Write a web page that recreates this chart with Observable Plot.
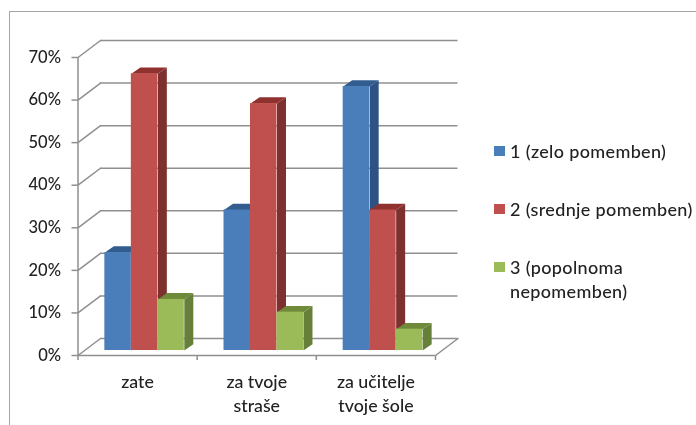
<!DOCTYPE html>
<html>
<head>
<meta charset="utf-8">
<script src="https://cdn.jsdelivr.net/npm/d3@7"></script>
<script src="https://cdn.jsdelivr.net/npm/@observablehq/plot@0.6"></script>
<style>
  html, body { margin: 0; padding: 0; background: #fff; }
  #frame { position: relative; width: 696px; height: 425px; overflow: hidden; font-family: Lato, sans-serif; color: #222; filter: blur(0.35px); }
  #frame::before { content: ""; position: absolute; left: 9px; top: 11px; right: -4px; bottom: -4px;
    border: 1.5px solid #a6a6a6; }
  #chart { position: absolute; left: 0; top: 0; }
  #chart svg { display: block; background: transparent; overflow: visible; }
  .legend-row { position: absolute; left: 494px; display: flex; align-items: flex-start; font-size: 18px; letter-spacing: 0.35px; line-height: 24px; font-weight: 500; }
  .legend-row i { display: block; width: 11px; height: 10px; margin: 7px 5px 0 0; flex: none; }
</style>
</head>
<body>
<div id="frame"><div id="chart"></div></div>
<script>
const categories = ["zate", "za tvoje\nstraše", "za učitelje\ntvoje šole"];
const seriesNames = ["1 (zelo pomemben)", "2 (srednje pomemben)", "3 (popolnoma\nnepomemben)"];
const series1 = [23, 33, 62];
const series2 = [65, 58, 33];
const series3 = [12, 9, 5];
const frontColors = ["#4a7ebb", "#c0504d", "#9bbb59"];
const topColors = ["#335c8f", "#8f312e", "#6f8a3a"];
const sideColors = ["#2f5285", "#7d302d", "#66803a"];
const percentTicks = [0, 10, 20, 30, 40, 50, 60, 70];
const legendTops = [139, 197, 255];

const values = [series1, series2, series3];

// Oblique projection constants, in data units (x: categories, y: percent)
const wallDX = 22.5 / 119.2, wallDY = 17 / 4.26;
const baseDX = 7 / 119.2, baseDY = 5 / 4.26;
const barDX = 9 / 119.2, barDY = 6.3 / 4.26;
const barW = 26.5 / 119.2;
const groupStart = 0.5 - 1.5 * barW;

const gridColor = "#8f8f8f";
const grid = percentTicks.map(v => ({v}));
const wallDiag = percentTicks.flatMap(v => [
  {id: v, x: 0, y: v},
  {id: v, x: wallDX, y: v + wallDY}
]);
const floorEdge = [
  {x: 3, y: 0},
  {x: 3 + wallDX, y: wallDY}
];

const barMarks = categories.flatMap((_, c) => values.flatMap((vals, s) => {
  const v = vals[c];
  const x1 = c + groupStart + baseDX + s * barW, x2 = x1 + barW;
  const y1 = baseDY, y2 = baseDY + v;
  const side = [[x2, y1], [x2 + barDX, y1 + barDY], [x2 + barDX, y2 + barDY], [x2, y2]];
  const top = [[x1, y2], [x1 + barDX, y2 + barDY], [x2 + barDX, y2 + barDY], [x2, y2]];
  const poly = (pts, fill) => Plot.line(pts, {x: d => d[0], y: d => d[1], fill, stroke: "none"});
  return [
    poly(side, sideColors[s]),
    poly(top, topColors[s]),
    Plot.rect([{x1, x2, y1, y2}], {x1: "x1", x2: "x2", y1: "y1", y2: "y2", fill: frontColors[s]})
  ];
}));

const plot = Plot.plot({
  width: 696, height: 425,
  marginLeft: 77.5, marginRight: 261, marginTop: 57, marginBottom: 70,
  style: {background: "transparent", color: "#222"},
  x: {domain: [0, 3], label: null},
  y: {domain: [0, 70], label: null},
  marks: [
    Plot.ruleY(grid, {y: "v", x1: wallDX, x2: 3 + wallDX, dy: -wallDY * 4.26, stroke: gridColor, strokeWidth: 1.5}),
    Plot.line(wallDiag, {x: "x", y: "y", z: "id", stroke: gridColor, strokeWidth: 1.5}),
    Plot.line(floorEdge, {x: "x", y: "y", stroke: gridColor, strokeWidth: 1.5}),
    ...barMarks,
    Plot.ruleX([0], {y1: 0, y2: 70, stroke: gridColor, strokeWidth: 1.5}),
    Plot.ruleY([0], {x1: 0, x2: 3, stroke: gridColor, strokeWidth: 1.5}),
    Plot.axisY({
      ticks: percentTicks, tickFormat: d => d + "%", tickSize: 6, tickPadding: 11, label: null,
      stroke: gridColor, strokeWidth: 1.5, tickWidth: 1.5,
      fontSize: 16.5, fontFamily: "Lato, sans-serif", fontWeight: 500, fill: "#222"
    }),
    Plot.axisX({ticks: [0, 1, 2, 3], tickFormat: () => "", tickSize: 5, label: null, stroke: gridColor, strokeWidth: 1.5}),
    Plot.text(categories, {
      x: (d, i) => i + 0.5, y: 0, text: d => d, dy: 15, lineAnchor: "top", lineHeight: 1.35,
      fontSize: 17.8, fontFamily: "Lato, sans-serif", fontWeight: 500, fill: "#222"
    })
  ]
});
document.getElementById("chart").appendChild(plot);

const frame = document.getElementById("frame");
seriesNames.forEach((name, i) => {
  const row = document.createElement("div");
  row.className = "legend-row";
  row.style.top = legendTops[i] + "px";
  const sw = document.createElement("i");
  sw.style.background = frontColors[i];
  const label = document.createElement("span");
  label.style.whiteSpace = "pre";
  label.textContent = name;
  row.append(sw, label);
  frame.appendChild(row);
});
</script>
</body>
</html>
